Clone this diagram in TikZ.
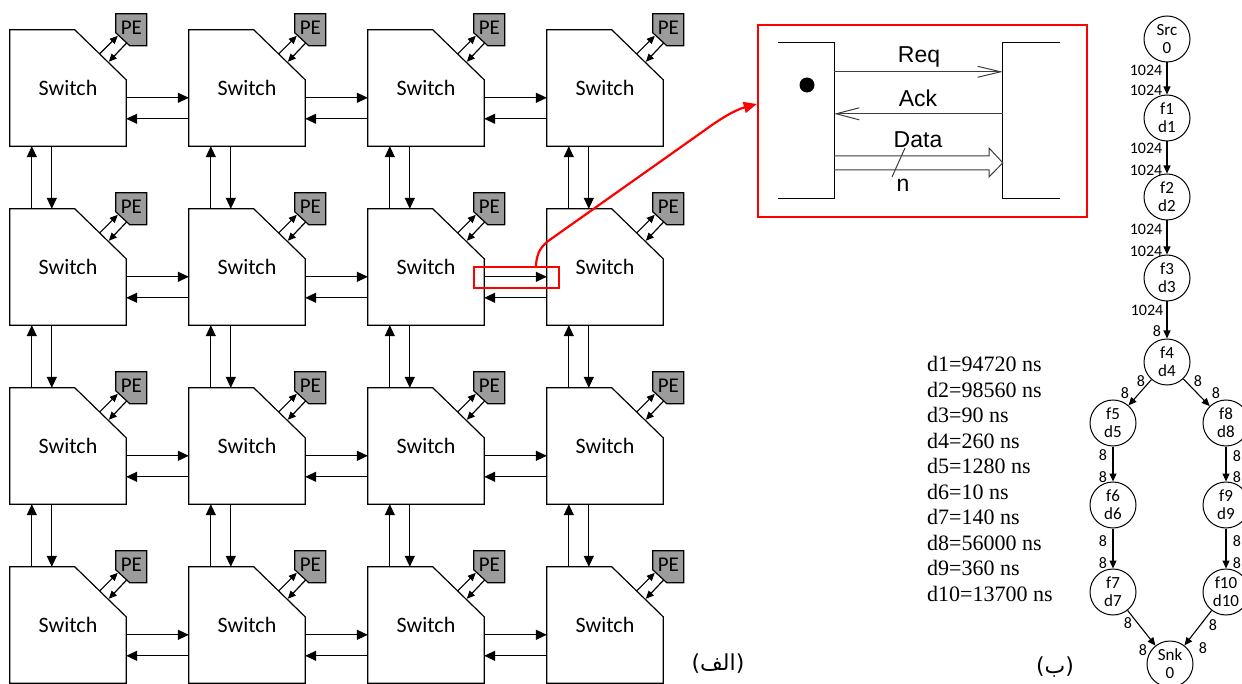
\documentclass[tikz,border=0pt]{standalone}
\usepackage{fontspec}
\usetikzlibrary{arrows.meta,calc}
\newfontfamily\calfont{Carlito}
\newfontfamily\timesfont{Liberation Serif}
\newfontfamily\arialfont{Liberation Sans}
\newfontfamily\dejavufont{DejaVu Sans}
\newfontfamily\arabicfont[Script=Arabic]{DejaVu Sans}
\TeXXeTstate=1
\definecolor{pegray}{RGB}{155,155,155}
\definecolor{insetgray}{RGB}{60,60,60}
\begin{document}
\begin{tikzpicture}[x=1pt,y=-1pt,
  switchbox/.style={minimum width=116pt,minimum height=116pt,inner sep=0pt,font=\calfont\fontsize{22}{26}\selectfont},
  swline/.style={line width=1.2pt,line join=miter},
  pebox/.style={minimum width=31pt,minimum height=32pt,inner sep=0pt,font=\calfont\fontsize{21}{24}\selectfont},
  arr/.style={line width=1.2pt,-{Triangle[length=11pt,width=10pt]}},
  pearr/.style={line width=1.2pt,-{Triangle[length=8pt,width=7pt]}},
  gnode/.style={circle,draw,line width=1pt,minimum size=46pt,inner sep=0pt,align=center,font=\calfont\fontsize{17}{18}\selectfont},
  garr/.style={line width=1.1pt,-{Triangle[length=8pt,width=7pt]}},
  elab/.style={font=\calfont\fontsize{16}{16}\selectfont,inner sep=0pt},
  dlab/.style={font=\timesfont\fontsize{22}{24}\selectfont,anchor=west,inner sep=0pt},
  ilab/.style={font=\arialfont\fontsize{23}{24}\selectfont,anchor=base,inner sep=0pt},
  insetline/.style={line width=1pt,draw=insetgray},
  redline/.style={draw=red,line width=2.2pt},
]
\useasboundingbox (0,0) rectangle (1242,684);

% ---------- switches and PEs ----------
\foreach \c in {0,1,2,3}{
 \foreach \r in {0,1,2,3}{
  \node[switchbox] (s\c\r) at ({68+179*\c},{88+179*\r}) {Switch};
  \draw[swline] (s\c\r.north west) -- ++(65,0) -- ($(s\c\r.north east)+(0,50)$)
     -- (s\c\r.south east) -- (s\c\r.south west) -- cycle;
  \draw[swline,fill=pegray] ($(s\c\r.north west)+(106,-16)$) -- ($(s\c\r.north west)+(137,-16)$)
     -- ($(s\c\r.north west)+(137,16)$) -- ($(s\c\r.north west)+(120,16)$)
     -- ($(s\c\r.north west)+(106,3)$) -- cycle;
  \node[pebox] (p\c\r) at ($(s\c\r.north west)+(121.5,-2)$) {PE};
  \draw[pearr] ($(s\c\r.north west)+(90,24)$) -- ($(s\c\r.north west)+(108,6)$);
  \draw[pearr] ($(s\c\r.north west)+(117,13)$) -- ($(s\c\r.north west)+(99,32)$);
 }}
\foreach \c/\n in {0/1,1/2,2/3}{
 \foreach \r in {0,1,2,3}{
  \draw[arr] ($(s\c\r.north east)+(0,68)$) -- ($(s\n\r.north west)+(0,68)$);
  \draw[arr] ($(s\n\r.north west)+(0,89)$) -- ($(s\c\r.north east)+(0,89)$);
 }}
\foreach \r/\m in {0/1,1/2,2/3}{
 \foreach \c in {0,1,2,3}{
  \draw[arr] ($(s\c\m.north west)+(22,0)$) -- ($(s\c\r.south west)+(22,0)$);
  \draw[arr] ($(s\c\r.south west)+(42,0)$) -- ($(s\c\m.north west)+(42,0)$);
 }}

% ---------- zoom rectangle and inset ----------
\node[redline,minimum width=85pt,minimum height=21pt,inner sep=0pt] (zoomrect) at (516.5,277.5) {};
\node[redline,line width=2.5pt,minimum width=329pt,minimum height=192pt,inner sep=0pt] (inset) at (922.5,121) {};
\coordinate (rs) at ($(zoomrect.north west)+(63,0)$);
\coordinate (re) at ($(inset.west)+(0,-17)$);
\draw[red,line width=2.2pt,-{Triangle[length=13pt,width=11pt]}]
  (rs) .. controls (537,252) and (541,246) .. (551,239) -- (705,130)
  .. controls (720,119) and (735,110) .. (re);

\node[minimum width=56pt,minimum height=155pt,inner sep=0pt] (lblk) at (806,120.5) {};
\node[minimum width=57pt,minimum height=155pt,inner sep=0pt] (rblk) at (1031.5,120.5) {};
\draw[line width=1.1pt] (lblk.north west) -- (lblk.north east) -- (lblk.south east) -- (lblk.south west);
\draw[line width=1.1pt] (rblk.north east) -- (rblk.north west) -- (rblk.south west) -- (rblk.south east);
\fill (807,85) circle (7.5);
\draw[insetline,-{Straight Barb[length=23pt,width=11pt]}] ($(lblk.north east)+(0,29)$) -- ($(rblk.north west)+(0,29)$);
\draw[insetline,-{Straight Barb[length=23pt,width=12pt]}] ($(rblk.north west)+(0,71)$) -- ($(lblk.north east)+(0,71)$);
\draw[insetline] ($(lblk.north east)+(0,113)$) -- (989,156) -- (989,148) -- ($(rblk.north west)+(0,120)$)
  -- (989,177) -- (989,170) -- ($(lblk.north east)+(0,127)$);
\draw[insetline] (905,148) -- (892,177);
\node[ilab] (treq) at (919,63) {Req};
\node[ilab] (tack) at (918,106.5) {Ack};
\node[ilab] (tdata) at (918,148) {Data};
\node[ilab] (tn) at (903,191.5) {n};

% ---------- delay list ----------
\foreach \t [count=\i] in {d1=94720 ns,d2=98560 ns,d3=90 ns,d4=260 ns,d5=1280 ns,d6=10 ns,d7=140 ns,d8=56000 ns,d9=360 ns,d10=13700 ns}{
  \node[dlab] (dl\i) at (927,{364+25.55*(\i-1)}) {\t};
}

% ---------- task graph ----------
\node[gnode] (src) at (1167,39) {Src\\0};
\node[gnode] (f1) at (1167,118) {f1\\d1};
\node[gnode] (f2) at (1167,197) {f2\\d2};
\node[gnode] (f3) at (1167,278) {f3\\d3};
\node[gnode] (f4) at (1167,362) {f4\\d4};
\node[gnode] (f5) at (1113,423) {f5\\d5};
\node[gnode] (f6) at (1113,505) {f6\\d6};
\node[gnode] (f7) at (1113,592) {f7\\d7};
\node[gnode] (f8) at (1226,423) {f8\\d8};
\node[gnode] (f9) at (1226,505) {f9\\d9};
\node[gnode] (f10) at (1226,592) {f10\\d10};
\node[gnode] (snk) at (1170,664) {Snk\\0};
\draw[garr] (src) -- (f1);
\draw[garr] (f1) -- (f2);
\draw[garr] (f2) -- (f3);
\draw[garr] (f3) -- (f4);
\draw[garr] (f4) -- (f5);
\draw[garr] (f4) -- (f8);
\draw[garr] (f5) -- (f6);
\draw[garr] (f6) -- (f7);
\draw[garr] (f8) -- (f9);
\draw[garr] (f9) -- (f10);
\draw[garr] (f7) -- (snk);
\draw[garr] (f10) -- (snk);
\node[elab] (e1) at (1146,70) {1024};
\node[elab] (e2) at (1146,90) {1024};
\node[elab] (e3) at (1146,148) {1024};
\node[elab] (e4) at (1146,170) {1024};
\node[elab] (e5) at (1146,229) {1024};
\node[elab] (e6) at (1146,251) {1024};
\node[elab] (e7) at (1147,310) {1024};
\node[elab] (e8) at (1157,331) {8};
\node[elab] (e9) at (1141,381) {8};
\node[elab] (e10) at (1125,393) {8};
\node[elab] (e11) at (1198,381) {8};
\node[elab] (e12) at (1216,393) {8};
\node[elab] (e13) at (1103,455) {8};
\node[elab] (e14) at (1103,477) {8};
\node[elab] (e15) at (1237,456) {8};
\node[elab] (e16) at (1237,477) {8};
\node[elab] (e17) at (1103,541) {8};
\node[elab] (e18) at (1103,563) {8};
\node[elab] (e19) at (1237,541) {8};
\node[elab] (e20) at (1237,563) {8};
\node[elab] (e21) at (1128,623) {8};
\node[elab] (e22) at (1143,650) {8};
\node[elab] (e23) at (1213,625) {8};
\node[elab] (e24) at (1203,648) {8};

% ---------- captions ----------
\node[inner sep=0pt,font=\fontsize{22}{24}\selectfont] (capa) at (718,664)
  {{\dejavufont(}{\arabicfont\beginR الف\endR}{\dejavufont)}};
\node[inner sep=0pt,font=\fontsize{22}{24}\selectfont] (capb) at (1055,667)
  {{\dejavufont(}{\arabicfont\beginR ب\endR}{\dejavufont)}};
\end{tikzpicture}
\end{document}
